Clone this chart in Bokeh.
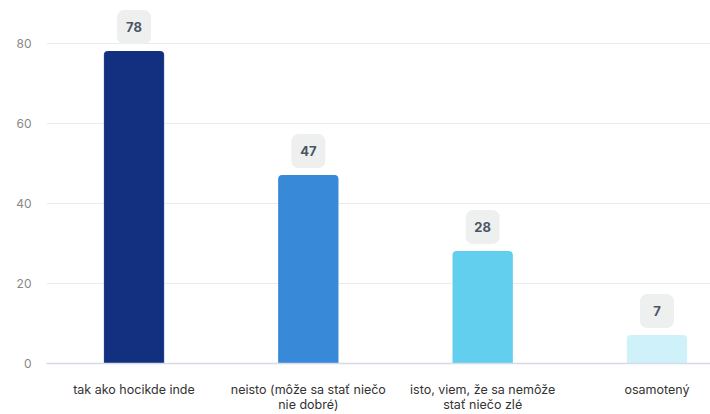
from bokeh.plotting import figure
from bokeh.models import ColumnDataSource, Range1d, FixedTicker
from bokeh.transform import dodge
from bokeh.embed import file_html
from bokeh.resources import INLINE

categories = ["tak ako hocikde inde", "neisto (môže sa stať niečo\nnie dobré)",
              "isto, viem, že sa nemôže\nstať niečo zlé", "osamotený"]
values = [78, 47, 28, 7]
colors = ["#12307f", "#3889d7", "#62cfee", "#cff1fa"]
y_ticks = [0, 20, 40, 60, 80]

idx = list(range(len(categories)))
src = ColumnDataSource(dict(x=idx, v=values, c=colors, lbl=[str(v) for v in values]))

p = figure(width=710, height=414, output_backend="svg", toolbar_location=None,
           x_range=Range1d(-0.502, 3.307), y_range=Range1d(0, 90.75),
           min_border_left=46, min_border_right=0, min_border_top=0, min_border_bottom=30)
p.outline_line_color = None
p.background_fill_color = "white"

p.vbar(x="x", top="v", width=0.34, color="c", source=src, border_radius=(3, 3, 0, 0))

boxy = dodge("v", 6.1, range=p.y_range)
p.rect(x="x", y=boxy, width=34, height=34, width_units="screen", height_units="screen",
       fill_color="#eef0f0", line_color=None, source=src, border_radius=7)
p.text(x="x", y=boxy, text="lbl", source=src, text_align="center", text_baseline="middle",
       text_font_size="13px", text_font_style="bold", text_color="#4b5563",
       text_font={"value": "Inter"})

# x axis
xa = p.xaxis[0]
xa.ticker = FixedTicker(ticks=idx)
xa.major_label_overrides = {i: c for i, c in zip(idx, categories)}
xa.axis_line_color = "#d5daec"
xa.axis_line_width = 1.5
xa.major_tick_line_color = None
xa.minor_tick_line_color = None
xa.major_label_standoff = 12
xa.major_label_text_font = "Inter"
xa.major_label_text_font_size = "12.5px"
xa.major_label_text_color = "#333333"
xa.major_label_text_line_height = 1.0

# y axis
ya = p.yaxis[0]
ya.ticker = FixedTicker(ticks=y_ticks)
ya.axis_line_color = None
ya.major_tick_line_color = None
ya.minor_tick_line_color = None
ya.major_label_standoff = 9
ya.major_label_text_font = "Inter"
ya.major_label_text_font_size = "12px"
ya.major_label_text_color = "#888888"

p.xgrid.grid_line_color = None
p.ygrid.grid_line_color = "#e9ebee"
p.ygrid.ticker = FixedTicker(ticks=y_ticks[1:])

open("out.html", "w").write(file_html(p, INLINE))
